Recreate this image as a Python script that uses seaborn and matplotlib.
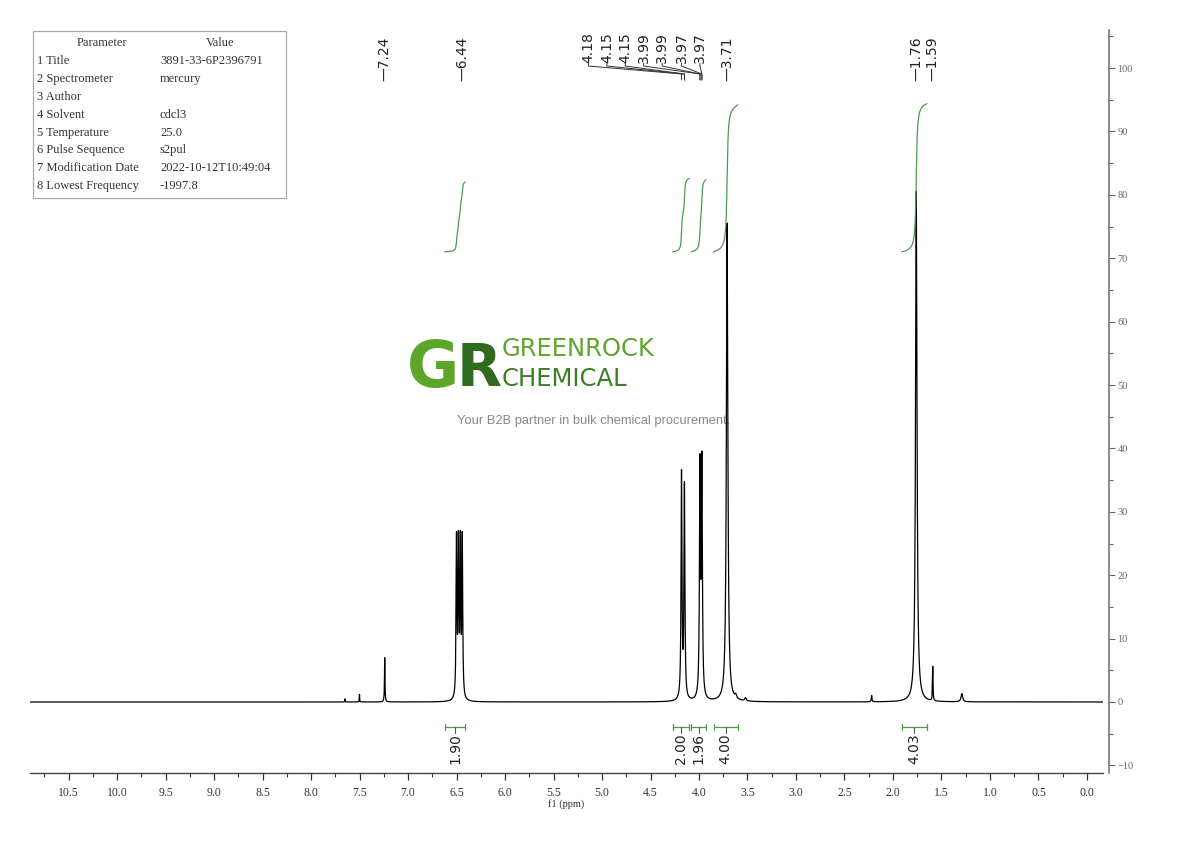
import numpy as np
import pandas as pd
import matplotlib
matplotlib.use('Agg')
import matplotlib.pyplot as plt
import matplotlib.transforms as mtransforms
from matplotlib.patches import Rectangle
from matplotlib.ticker import MultipleLocator, FormatStrFormatter
import seaborn as sns

# peak list: position (ppm), height, half width (ppm)
peak_ppm = [7.65, 7.50, 7.24, 6.50, 6.48, 6.46, 6.44, 4.18, 4.15, 3.99, 3.97,
            3.71, 3.62, 3.52, 2.22, 1.76, 1.59, 1.29]
peak_height = [0.5, 1.2, 7.0, 25.0, 23.8, 23.8, 25.0, 35.5, 33.5, 36.0, 36.5,
               75.5, 0.6, 0.5, 1.0, 80.5, 5.4, 1.3]
peak_hwhm = [0.002, 0.002, 0.003, 0.005, 0.005, 0.005, 0.005, 0.0055, 0.0055,
             0.006, 0.006, 0.009, 0.010, 0.010, 0.004, 0.009, 0.003, 0.010]

# peak picking labels
pick_single = ['7.24', '6.44', '3.71', '1.76', '1.59']
pick_group = ['4.18', '4.15', '4.15', '3.99', '3.99', '3.97', '3.97']

# integral regions (ppm) and values
int_from = [6.62, 4.27, 4.08, 3.85, 1.91]
int_to = [6.41, 4.10, 3.93, 3.60, 1.65]
int_value = [1.90, 2.00, 1.96, 4.00, 4.03]

param_names = ['1 Title', '2 Spectrometer', '3 Author', '4 Solvent',
               '5 Temperature', '6 Pulse Sequence', '7 Modification Date',
               '8 Lowest Frequency']
param_values = ['3891-33-6P2396791', 'mercury', '', 'cdcl3', '25.0',
                's2pul', '2022-10-12T10:49:04', '-1997.8']

y_ticks = np.arange(-10, 101, 10)

# layout
GROUP_LABEL_X = [5.14, 4.95, 4.76, 4.57, 4.38, 4.18, 3.99]
INT_BASE = 71.0
INT_SCALE = 5.8
GREEN = '#4c9a4c'


def spectrum(x):
    y = np.zeros_like(x)
    for p, h, w in zip(peak_ppm, peak_height, peak_hwhm):
        y += h * w**2 / ((x - p)**2 + w**2)
    return y


sns.set_style('ticks')
plt.rcParams['font.family'] = ['Liberation Serif', 'DejaVu Serif']

fig = plt.figure(figsize=(11.9, 8.41), dpi=100)
ax = fig.add_axes([30 / 1190, 68 / 841, 1073 / 1190, 743 / 841])

ppm = np.linspace(10.897, -0.165, 22000)
df = pd.DataFrame({'ppm': ppm, 'intensity': spectrum(ppm)})
sns.lineplot(data=df, x='ppm', y='intensity', color='black', linewidth=0.9,
             ax=ax, zorder=3)

# integral curves and brackets
for a, b, v in zip(int_from, int_to, int_value):
    xs = np.linspace(a, b, 400)
    cum = np.cumsum(spectrum(xs))
    cum = (cum - cum[0]) / (cum[-1] - cum[0])
    d = pd.DataFrame({'ppm': xs, 'integral': INT_BASE + cum * v * INT_SCALE})
    sns.lineplot(data=d, x='ppm', y='integral', color=GREEN, linewidth=0.9,
                 ax=ax, sort=False, zorder=3)
    yb = -3.94
    ax.plot([a, b], [yb, yb], color=GREEN, lw=0.9)
    ax.plot([a, a], [yb - 0.5, yb + 0.5], color=GREEN, lw=0.9)
    ax.plot([b, b], [yb - 0.5, yb + 0.5], color=GREEN, lw=0.9)
    c = (a + b) / 2
    ax.plot([c, c], [yb, -4.9], color='#555555', lw=0.8)
    ax.text(c, -4.95, f'{v:.2f}', rotation=90, ha='center', va='top',
            fontsize=10, family='DejaVu Sans', color='#222222')

# peak labels
trans = mtransforms.blended_transform_factory(ax.transData, ax.transAxes)
for lab in pick_single:
    ax.text(float(lab), 0.9314, '\u2014' + lab, rotation=90, ha='center',
            va='bottom', fontsize=10, family='DejaVu Sans', color='#222222',
            transform=trans)
for lab, xl in zip(pick_group, GROUP_LABEL_X):
    xp = float(lab)
    ax.text(xl, 0.9556, lab, rotation=90, ha='center', va='bottom',
            fontsize=10, family='DejaVu Sans', color='#222222', transform=trans)
    ax.plot([xl, xl, xp, xp], [0.9556, 0.9515, 0.9408, 0.9327],
            color='#333333', lw=0.7, transform=trans)

ax.set_xlim(10.897, -0.165)
ax.set_ylim(-11.2, 106)
ax.xaxis.set_major_locator(MultipleLocator(0.5))
ax.xaxis.set_minor_locator(MultipleLocator(0.25))
ax.xaxis.set_major_formatter(FormatStrFormatter('%.1f'))
ax.yaxis.tick_right()
ax.set_yticks(y_ticks)
ax.yaxis.set_minor_locator(MultipleLocator(5))
ax.tick_params(axis='x', which='major', direction='out', length=5, width=0.9,
               colors='#333333', labelsize=8.5, pad=5)
ax.tick_params(axis='x', which='minor', direction='out', length=3, width=0.8,
               colors='#333333')
ax.tick_params(axis='y', which='major', direction='out', length=4, width=0.8,
               colors='#666666', labelsize=7.5, pad=2, left=False, right=True)
ax.tick_params(axis='y', which='minor', direction='out', length=3, width=0.8,
               colors='#666666', left=False, right=True)
ax.set_xlabel('f1 (ppm)', fontsize=7.5, labelpad=0, color='#333333')
ax.set_ylabel('')
sns.despine(ax=ax, left=True, top=True, right=False)
ax.spines['right'].set_position(('outward', 4.5))
ax.spines['right'].set_color('#777777')
ax.spines['right'].set_linewidth(1.2)
ax.spines['bottom'].set_color('#444444')
ax.spines['bottom'].set_linewidth(1.0)

# watermark logo (below the spectrum)
ft = fig.transFigure
ax.text(407 / 1190, 1 - 369 / 841, 'G', transform=ft, fontsize=46,
        fontweight='bold', family='DejaVu Sans', color='#5ea52c',
        ha='left', va='center', zorder=1)
ax.text(457 / 1190, 1 - 369 / 841, 'R', transform=ft, fontsize=42,
        fontweight='bold', family='DejaVu Sans', color='#2f6a1f',
        ha='left', va='center', zorder=1)
ax.text(502 / 1190, 1 - 349 / 841, 'GREENROCK', transform=ft, fontsize=17.5,
        family='DejaVu Sans', color='#5ea52c', ha='left', va='center',
        zorder=1)
ax.text(502 / 1190, 1 - 378.5 / 841, 'CHEMICAL', transform=ft, fontsize=17.5,
        family='DejaVu Sans', color='#3d7d24', ha='left', va='center',
        zorder=1)
ax.text(594 / 1190, 1 - 421 / 841,
        'Your B2B partner in bulk chemical procurement.', transform=ft,
        fontsize=9.3, family='Liberation Sans', color='#888888',
        ha='center', va='center', zorder=1)

# parameter table
fig.patches.append(Rectangle((33 / 1190, 1 - 198 / 841), 253 / 1190, 167 / 841,
                             transform=ft, fill=False, edgecolor='#aaaaaa',
                             lw=0.9))
fig.text(102 / 1190, 1 - 43 / 841, 'Parameter', ha='center', va='center',
         fontsize=9, color='#333333')
fig.text(220 / 1190, 1 - 43 / 841, 'Value', ha='center', va='center',
         fontsize=9, color='#333333')
for i, (n, v) in enumerate(zip(param_names, param_values)):
    yy = 1 - (61 + 17.9 * i) / 841
    fig.text(37 / 1190, yy, n, ha='left', va='center', fontsize=9,
             color='#333333')
    fig.text(160 / 1190, yy, v, ha='left', va='center', fontsize=9,
             color='#333333')

fig.savefig('out.png', dpi=100)
